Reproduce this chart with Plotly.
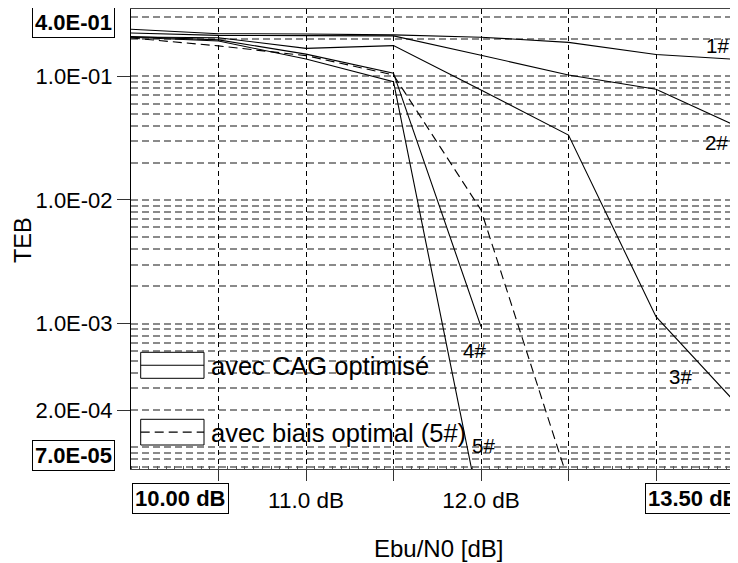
import plotly.graph_objects as go

# ---- data ----
ebn0_db = [10.0, 10.5, 11.0, 11.5, 12.0, 12.5, 13.0, 13.5]
teb_1 = [0.240, 0.221, 0.220, 0.216, 0.207, 0.188, 0.150, 0.136]
teb_2 = [0.224, 0.214, 0.213, 0.212, 0.148, 0.1025, 0.0785, 0.0373]
teb_3 = [0.208, 0.205, 0.168, 0.177, 0.0774, 0.0335, 1.14e-3, 1.96e-4]
teb_4 = [0.210, 0.197, 0.151, 0.106, 9.46e-4]
teb_5 = [0.207, 0.193, 0.138, 0.0904, 2.8e-5]
teb_biais = [0.204, 0.176, 0.147, 0.1025, 8.3e-3, 5.3e-5]

curve_labels = ["1#", "2#", "3#", "4#", "5#"]
y_tickvals = [1e-1, 1e-2, 1e-3, 2e-4]
y_ticktext = ["1.0E-01", "1.0E-02", "1.0E-03", "2.0E-04"]
x_tickvals = [10.5, 11.0, 11.5, 12.0, 12.5, 13.0]
x_ticktext = ["", "11.0 dB", "", "12.0 dB", "", ""]
legend_names = ["avec CAG optimisé", "avec biais optimal (5#)"]

FONT = "Liberation Sans, Arial, Helvetica, sans-serif"
OFF = 8  # page body margin offset
W, H = 738, 555
L, T, B = 123, 1, 94
PW, PH = W - L, H - T - B

def px_to_paper_x(px):
    return (px - OFF - L) / PW

def px_to_paper_y(py):
    return (H - B - (py - OFF)) / PH

fig = go.Figure()
line_solid = dict(color="black", width=1.1)
line_dash = dict(color="black", width=1.1, dash="9px,5px")

fig.add_trace(go.Scatter(x=ebn0_db, y=teb_1, mode="lines", line=line_solid, showlegend=False))
fig.add_trace(go.Scatter(x=ebn0_db, y=teb_2, mode="lines", line=line_solid, showlegend=False))
fig.add_trace(go.Scatter(x=ebn0_db, y=teb_3, mode="lines", line=line_solid, showlegend=False))
fig.add_trace(go.Scatter(x=ebn0_db[:len(teb_4)], y=teb_4, mode="lines", line=line_solid, showlegend=False))
fig.add_trace(go.Scatter(x=ebn0_db[:len(teb_5)], y=teb_5, mode="lines", line=line_solid, showlegend=False))
fig.add_trace(go.Scatter(x=ebn0_db[:len(teb_biais)], y=teb_biais, mode="lines", line=line_dash, showlegend=False))

# minor log grid positions
minor_vals = []
for e in range(-5, 0):
    for m in range(1, 10):
        minor_vals.append(m * 10.0 ** e)

grid_gray = "#8a8a8a"
fig.update_layout(
    width=W, height=H,
    margin=dict(l=L, r=0, t=T, b=B, pad=0),
    paper_bgcolor="white", plot_bgcolor="white",
    font=dict(family=FONT, size=22, color="black"),
    showlegend=False,
    xaxis=dict(
        range=[10.0, 10.0 + PW / 175.0],
        tickmode="array", tickvals=x_tickvals, ticktext=x_ticktext,
        ticks="outside", ticklen=11, tickcolor="#333", tickwidth=1,
        showgrid=True, gridcolor="black", griddash="5px,4px", gridwidth=1,
        showline=True, linecolor="#444", linewidth=1, mirror=True,
        zeroline=False, tickfont=dict(size=22.5, family=FONT),
        minor=dict(tickmode="linear", tick0=10.0, dtick=0.05, ticks="inside",
                   ticklen=3, tickcolor="#555", showgrid=False),
    ),
    yaxis=dict(
        type="log", range=[-4.175, -0.456],
        tickmode="array", tickvals=y_tickvals, ticktext=y_ticktext,
        ticks="outside", ticklen=13, tickcolor="#333", tickwidth=1,
        showgrid=True, gridcolor=grid_gray, griddash="7px,4px", gridwidth=1.5,
        showline=True, linecolor="black", linewidth=1,
        zeroline=False, tickfont=dict(size=22, family=FONT),
        minor=dict(tickmode="array", tickvals=minor_vals, ticks="",
                   showgrid=True, gridcolor=grid_gray, griddash="7px,4px", gridwidth=1.5),
    ),
)

ann = []
# boxed axis-limit labels
box = dict(bordercolor="black", borderwidth=1, borderpad=2, bgcolor="white",
           showarrow=False, xref="paper", yref="paper",
           font=dict(family=FONT, size=22, color="black"))
ann.append(dict(text="<b>4.0E-01</b>", x=px_to_paper_x(115), y=px_to_paper_y(22.5),
                xanchor="right", yanchor="middle", **box))
ann.append(dict(text="<b>7.0E-05</b>", x=px_to_paper_x(115), y=px_to_paper_y(455),
                xanchor="right", yanchor="middle", **box))
ann.append(dict(text="<b>10.00 dB</b>", x=px_to_paper_x(131.5), y=px_to_paper_y(498),
                xanchor="left", yanchor="middle", **box))
ann.append(dict(text="<b>13.50 dB</b>", x=px_to_paper_x(645), y=px_to_paper_y(498),
                xanchor="left", yanchor="middle", **box))

# axis titles
ann.append(dict(text="TEB", x=px_to_paper_x(23), y=px_to_paper_y(240), xref="paper", yref="paper",
                xanchor="center", yanchor="middle",
                textangle=-90, showarrow=False, font=dict(family=FONT, size=23.5)))
ann.append(dict(text="Ebu/N0 [dB]", x=px_to_paper_x(438), y=px_to_paper_y(548), xref="paper", yref="paper",
                xanchor="center", yanchor="middle",
                showarrow=False, font=dict(family=FONT, size=24)))

# curve labels
label_px = [(717.5, 45.3), (716.7, 142.5), (680, 376), (474.7, 350), (483.3, 445.8)]
for txt, (lx, ly) in zip(curve_labels, label_px):
    ann.append(dict(text=txt, x=px_to_paper_x(lx), y=px_to_paper_y(ly), xref="paper", yref="paper",
                    xanchor="center", yanchor="middle",
                    showarrow=False, font=dict(family=FONT, size=20.5)))

# legend text
ann.append(dict(text=legend_names[0], x=px_to_paper_x(209), y=px_to_paper_y(366), xref="paper", yref="paper",
                xanchor="left", yanchor="middle", showarrow=False, font=dict(family=FONT, size=25.5)))
ann.append(dict(text=legend_names[1], x=px_to_paper_x(209), y=px_to_paper_y(433), xref="paper", yref="paper",
                xanchor="left", yanchor="middle", showarrow=False, font=dict(family=FONT, size=25.5)))

shapes = []
for (y0, y1, dash) in [(352.3, 378.3, None), (419.3, 445.0, "9px,5px")]:
    shapes.append(dict(type="rect", xref="paper", yref="paper",
                       x0=px_to_paper_x(140.7), x1=px_to_paper_x(204),
                       y0=px_to_paper_y(y1), y1=px_to_paper_y(y0),
                       line=dict(color="black", width=1), fillcolor="white", layer="above"))
    ym = px_to_paper_y((y0 + y1) / 2)
    ld = dict(color="black", width=1.1)
    if dash:
        ld["dash"] = dash
    shapes.append(dict(type="line", xref="paper", yref="paper",
                       x0=px_to_paper_x(140.7), x1=px_to_paper_x(204), y0=ym, y1=ym,
                       line=ld, layer="above"))

fig.update_layout(annotations=ann, shapes=shapes)
fig.write_html("out.html")
